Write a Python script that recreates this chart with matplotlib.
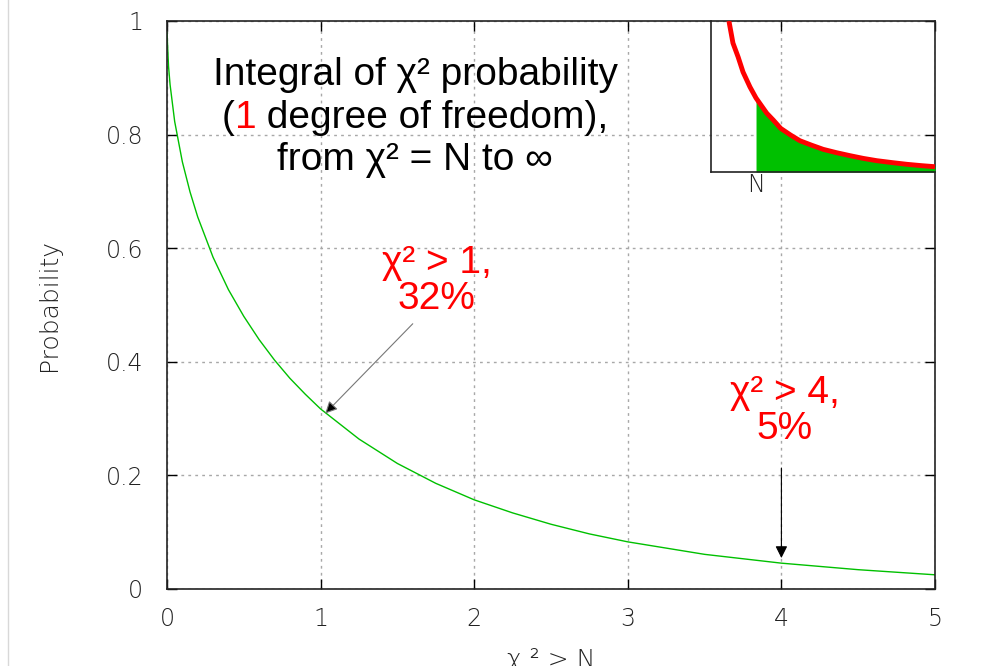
import numpy as np
import matplotlib
matplotlib.use("Agg")
import matplotlib.pyplot as plt
from matplotlib.lines import Line2D

# main curve (P(chi2 > N), 1 dof)
chi_n = [0.0, 0.01, 0.02, 0.05, 0.1, 0.15, 0.2, 0.3, 0.4, 0.5, 0.6, 0.7, 0.8, 0.9,
         1.0, 1.25, 1.5, 1.75, 2.0, 2.25, 2.5, 2.75, 3.0, 3.5, 4.0, 4.5, 5.0]
prob = [0.98, 0.92, 0.888, 0.823, 0.752, 0.699, 0.655, 0.584, 0.527, 0.480, 0.439,
        0.403, 0.371, 0.343, 0.317, 0.264, 0.221, 0.186, 0.157, 0.134, 0.114,
        0.097, 0.083, 0.061, 0.0455, 0.034, 0.025]

# inset sketch (arbitrary units)
inset_x = [0.080, 0.098, 0.121, 0.143, 0.174, 0.201, 0.249, 0.278, 0.311, 0.355,
           0.397, 0.450, 0.501, 0.560, 0.621, 0.680, 0.740, 0.810, 0.874, 0.940, 1.0]
inset_y = [1.0, 0.854, 0.762, 0.662, 0.563, 0.490, 0.389, 0.344, 0.289, 0.245,
           0.207, 0.177, 0.150, 0.128, 0.108, 0.090, 0.075, 0.062, 0.051, 0.042, 0.035]
inset_n = 0.201

xticks = [0, 1, 2, 3, 4, 5]
yticks = [0, 0.2, 0.4, 0.6, 0.8, 1]
ytick_labels = ['0', '0.2', '0.4', '0.6', '0.8', '1']

title_lines = ["Integral of \u03c7\u00b2 probability",
               "(1 degree of freedom),",
               "from \u03c7\u00b2 = N to \u221e"]

tick_font = dict(family='DejaVu Sans', fontweight=200, fontsize=17, color='#222222')
label_font = dict(family='DejaVu Sans', fontweight=200, fontsize=18, color='#222222')
big_font = dict(family='Liberation Sans', fontsize=28)

fig = plt.figure(figsize=(9.91, 6.66), dpi=100)
ax = fig.add_axes([167/991, (666-589)/666, 768/991, 568/666])

ax.plot(chi_n, prob, color='#00c000', lw=1.0)
ax.set_xlim(0, 5)
ax.set_ylim(0, 1)

ax.set_xticks(xticks)
ax.set_xticklabels([str(v) for v in xticks], **tick_font)
ax.set_yticks(yticks)
ax.set_yticklabels(ytick_labels, **tick_font)
ax.tick_params(direction='in', length=7, width=1, top=True, right=True,
               labeltop=False, labelright=False)
ax.tick_params(axis='y', pad=17)
ax.tick_params(axis='x', pad=13)
ax.grid(True, color='#a8a8a8', linestyle=(0, (2, 3)), lw=1)
for s in ax.spines.values():
    s.set_linewidth(1.2)
    s.set_color('#222222')

ax.set_ylabel('Probability', **label_font)
ax.yaxis.set_label_coords(-0.138, 0.5)
ax.set_xlabel('\u03c7 \u00b2 > N', **label_font)
ax.xaxis.set_label_coords(0.5, -0.103)

# title, three centered lines, red "1" in the middle one
cx = 1.615
ys = [0.905, 0.83, 0.755]
ax.text(cx, ys[0], title_lines[0], ha='center', va='center', **big_font)
ax.text(cx, ys[2], title_lines[2], ha='center', va='center', **big_font)
r = fig.canvas.get_renderer()
tmp = ax.text(cx, ys[1], title_lines[1], ha='center', va='center', **big_font)
bb = tmp.get_window_extent(r)
tmp.remove()
x0 = ax.transData.inverted().transform((bb.x0, 0))[0]
t1 = ax.text(x0, ys[1], "(", ha='left', va='center', **big_font)
t2 = ax.annotate("1", xy=(1, 0), xycoords=t1, va='bottom', color='red', **big_font)
ax.annotate(" degree of freedom),", xy=(1, 0), xycoords=t2, va='bottom', **big_font)

# annotations
ax.text(1.755, 0.543, "\u03c7\u00b2 > 1,\n32%", ha='center', va='center',
        color='#ff0000', linespacing=1.0, **big_font)
ax.annotate('', xy=(1.03, 0.309), xytext=(1.60, 0.467),
            arrowprops=dict(arrowstyle='-|>', color='#777777', lw=0.8,
                            mutation_scale=18, shrinkA=0, shrinkB=0,
                            fc='black', ec='#777777'))
ax.text(4.02, 0.313, "\u03c7\u00b2 > 4,\n5%", ha='center', va='center',
        color='#ff0000', linespacing=1.0, **big_font)
ax.annotate('', xy=(4.0, 0.0545), xytext=(4.0, 0.213),
            arrowprops=dict(arrowstyle='-|>', color='black', lw=0.8,
                            mutation_scale=18, shrinkA=0, shrinkB=0))

# inset sketch
ins = fig.add_axes([711/991, (666-172)/666, 224/991, 151/666])
ins.patch.set_alpha(0)
ins.plot(inset_x, inset_y, color='#ff0000', lw=3.5, solid_capstyle='butt',
         solid_joinstyle='round', zorder=3)
xs = np.array(inset_x)
ys_in = np.array(inset_y)
mask = xs >= inset_n
ins.fill_between(xs[mask], 0, ys_in[mask], color='#00c000', lw=0, zorder=2)
ins.set_xlim(0, 1)
ins.set_ylim(0, 1)
ins.set_xticks([inset_n])
ins.set_xticklabels(['N'], **tick_font)
ins.tick_params(axis='x', length=0, pad=1)
ins.set_yticks([])
for k in ['top', 'right']:
    ins.spines[k].set_visible(False)
for k in ['left', 'bottom']:
    ins.spines[k].set_linewidth(1.2)
    ins.spines[k].set_color('#222222')

fig.add_artist(Line2D([8/991, 8/991], [0, 1], color='#d8d8d8', lw=1))

fig.savefig('out.png', dpi=100, facecolor='white')
